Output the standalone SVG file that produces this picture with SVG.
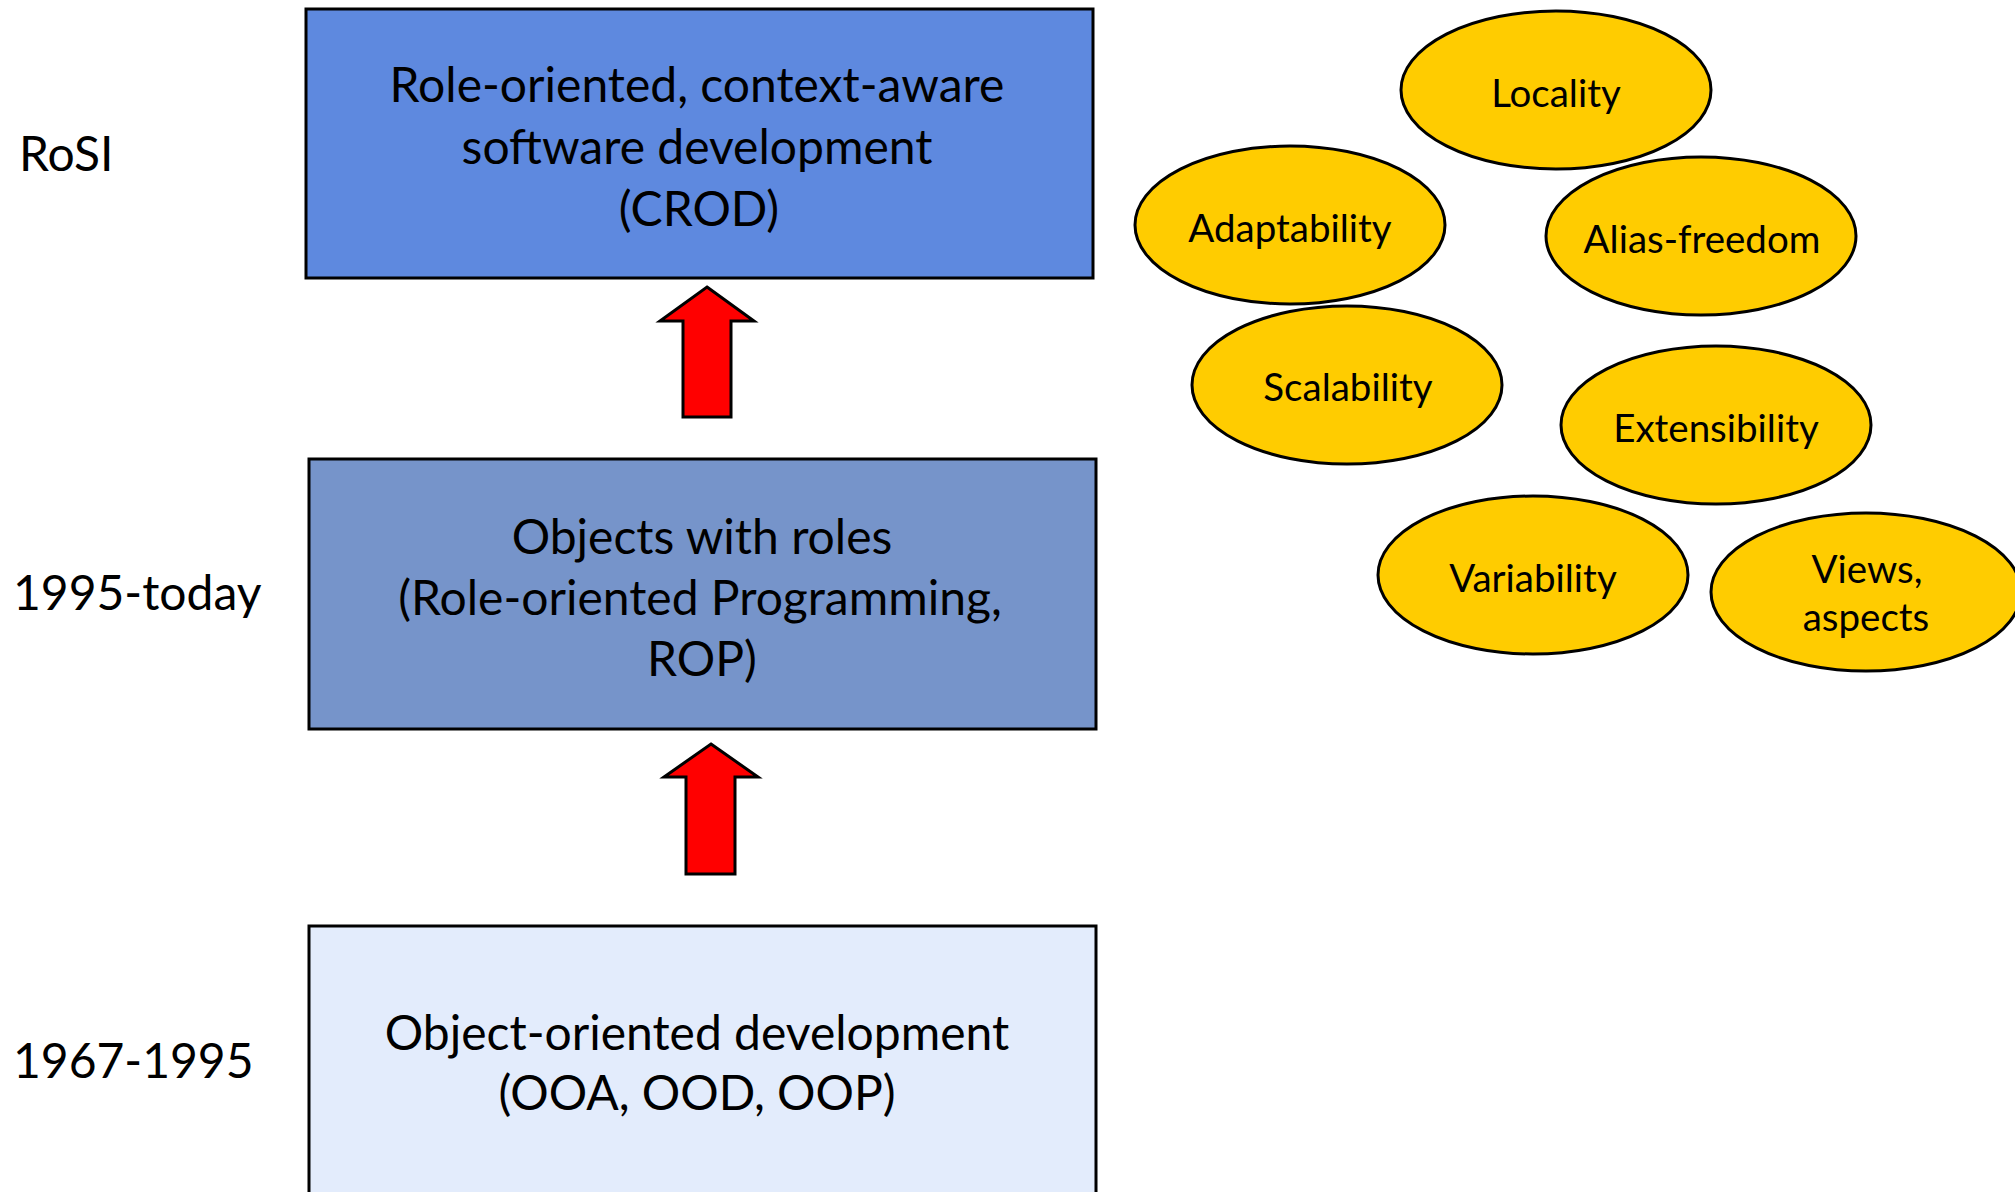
<svg xmlns="http://www.w3.org/2000/svg" width="2015" height="1192" viewBox="0 0 2015 1192">
<style>
text{font-family:Lato,"Open Sans","Liberation Sans",sans-serif;fill:#000}
.box text{font-size:48px;text-anchor:middle}
.lbl{font-size:48px}
.box rect{stroke:#000;stroke-width:3}
.ell ellipse{fill:#FFCC00;stroke:#000;stroke-width:3}
.ell text{font-size:38.5px;text-anchor:middle}
.arrow{fill:#FF0000;stroke:#000;stroke-width:3;stroke-linejoin:miter}
</style>
<rect width="2015" height="1192" fill="#fff"/>
<g id="label-rosi"><text class="lbl" x="19" y="171">RoSI</text></g>
<g id="label-1995"><text class="lbl" x="13" y="610">1995-today</text></g>
<g id="label-1967"><text class="lbl" x="13" y="1078">1967-1995</text></g>
<g id="node-crod" class="box">
<rect x="306" y="9" width="787" height="269" fill="#5E89DF"/>
<text x="697" y="102">Role-oriented, context-aware</text>
<text x="697" y="164">software development</text>
<text x="699" y="226">(CROD)</text>
</g>
<g id="node-rop" class="box">
<rect x="309" y="459" width="787" height="270" fill="#7694CA"/>
<text x="702" y="554">Objects with roles</text>
<text x="700" y="615">(Role-oriented Programming,</text>
<text x="702" y="676">ROP)</text>
</g>
<g id="node-oo" class="box">
<rect x="309" y="926" width="787" height="280" fill="#E3ECFC"/>
<text x="697" y="1050">Object-oriented development</text>
<text x="697" y="1110">(OOA, OOD, OOP)</text>
</g>
<g id="connectors">
<path class="arrow" d="M707 287 L754 321 L731 321 L731 417 L683 417 L683 321 L660 321 Z"/>
<path class="arrow" d="M711 744 L758 777 L735 777 L735 874 L686 874 L686 777 L664 777 Z"/>
</g>
<g id="node-locality" class="ell"><ellipse cx="1556" cy="90" rx="155" ry="79"/><text x="1556" y="107">Locality</text></g>
<g id="node-adaptability" class="ell"><ellipse cx="1290" cy="225" rx="155" ry="79"/><text x="1290" y="242">Adaptability</text></g>
<g id="node-alias" class="ell"><ellipse cx="1701" cy="236" rx="155" ry="79"/><text x="1702" y="253">Alias-freedom</text></g>
<g id="node-scalability" class="ell"><ellipse cx="1347" cy="385" rx="155" ry="79"/><text x="1348" y="401">Scalability</text></g>
<g id="node-extensibility" class="ell"><ellipse cx="1716" cy="425" rx="155" ry="79"/><text x="1716" y="442">Extensibility</text></g>
<g id="node-variability" class="ell"><ellipse cx="1533" cy="575" rx="155" ry="79"/><text x="1533" y="592">Variability</text></g>
<g id="node-views" class="ell"><ellipse cx="1866" cy="592" rx="155" ry="79"/><text x="1867" y="583">Views,</text><text x="1866" y="631">aspects</text></g>
</svg>
